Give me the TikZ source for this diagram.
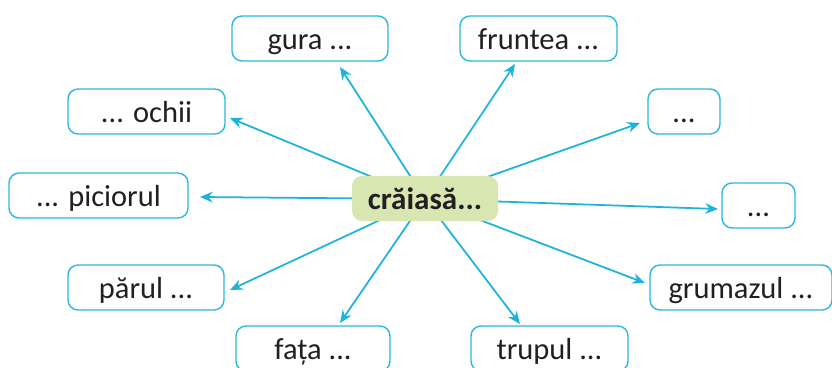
\documentclass[tikz,border=0pt]{standalone}
\usepackage{fontspec}
\setmainfont{Carlito}
\usetikzlibrary{arrows.meta}
\definecolor{bcyan}{HTML}{2BB8DE}
\definecolor{acyan}{HTML}{1DB4DC}
\definecolor{cgreen}{HTML}{D8E6B2}
\definecolor{txt}{HTML}{231F20}
\tikzset{
  wbox/.style={draw=bcyan, line width=1.2pt, rounded corners=3mm, fill=white,
    minimum height=1.35cm, inner sep=0pt, text height=19.6pt, text depth=0pt,
    font=\fontsize{26}{28}\selectfont, text=txt},
  cbox/.style={fill=cgreen, rounded corners=3mm, minimum width=4.38cm, minimum height=1.35cm,
    inner sep=0pt, text height=19.6pt, text depth=0pt,
    font=\fontsize{26.5}{28}\selectfont\bfseries, text=txt},
  arr/.style={draw=acyan, line width=1.5pt, -{Stealth[length=3.8mm,width=3.2mm]}}
}
\begin{document}
\begin{tikzpicture}[x=0.03cm,y=-0.03cm]
\useasboundingbox (0,0) rectangle (832,368);
\node[wbox, minimum width=4.68cm] (gura) at (310,38.5) {gura ...};
\node[wbox, minimum width=4.71cm] (fruntea) at (538.5,38.5) {fruntea ...};
\node[wbox, minimum width=4.71cm] (ochii) at (146.5,111.5) {... ochii};
\node[wbox, minimum width=2.16cm] (dotsa) at (684,111.5) {...};
\node[wbox, minimum width=5.37cm] (picior) at (98.5,195.5) {... piciorul};
\node[wbox, minimum width=2.19cm] (dotsb) at (758.5,205.5) {...};
\node[wbox, minimum width=4.68cm] (parul) at (146,287.5) {părul ...};
\node[wbox, minimum width=5.46cm] (grumaz) at (741,287.5) {grumazul ...};
\node[wbox, minimum width=4.62cm] (fata) at (313,348.5) {fața ...};
\node[wbox, minimum width=4.71cm] (trupul) at (549.5,348.5) {trupul ...};
\coordinate (c) at (425,199);
\coordinate (tgura) at (340,67);
\coordinate (tfruntea) at (515,64);
\coordinate (tochii) at (230,118);
\coordinate (tpicior) at (200,197);
\coordinate (tdotsa) at (640,123);
\coordinate (tdotsb) at (718,209);
\coordinate (tgrumaz) at (645,283);
\coordinate (tparul) at (230,290);
\coordinate (tfata) at (340,323);
\coordinate (ttrupul) at (520,324);
\foreach \t in {tgura,tfruntea,tochii,tpicior,tdotsa,tdotsb,tgrumaz,tparul,tfata,ttrupul}
  \draw[arr] (c) -- (\t);
\node[cbox] (center) at (425,198.5) {crăiasă...};
\end{tikzpicture}
\end{document}
